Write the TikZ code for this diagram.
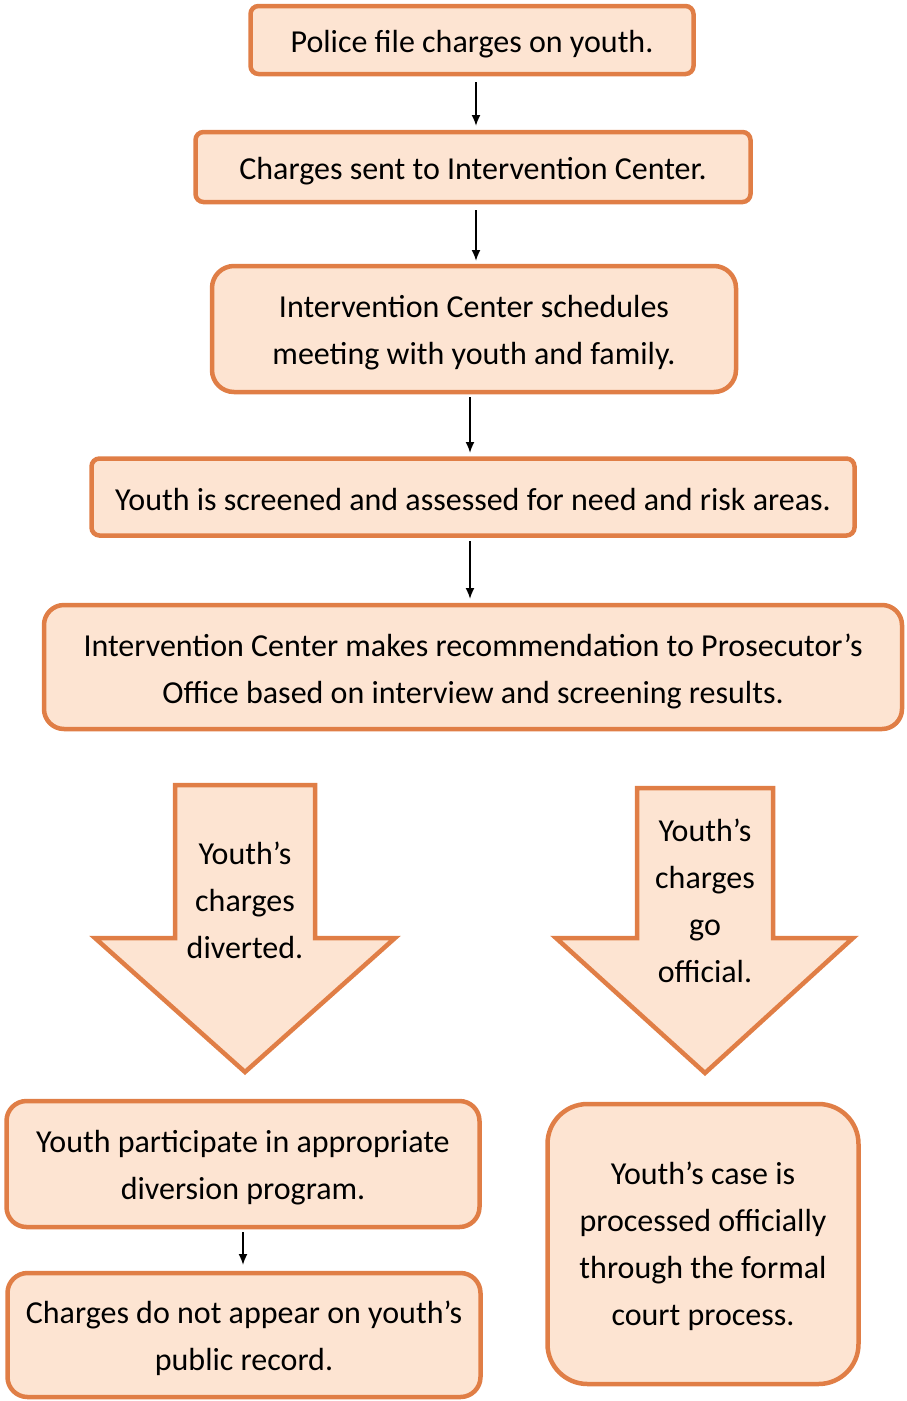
\documentclass[tikz,border=0pt]{standalone}
\usepackage{fontspec}
\setmainfont{Carlito}
\usetikzlibrary{arrows.meta}
\definecolor{edgeor}{RGB}{224,126,70}
\definecolor{fillor}{RGB}{253,228,210}
\begin{document}
\begin{tikzpicture}[x=1pt,y=-1pt,
  box/.style={draw=edgeor,fill=fillor,line width=4.5pt,rounded corners=#1,inner sep=0pt},
  box/.default=8pt,
  txt/.style={align=center,inner sep=0pt,font=\fontsize{32}{47}\selectfont},
  flow/.style={-{Latex[length=11pt,width=9pt]},line width=1.8pt,black},
  bigarrow/.style={draw=edgeor,fill=fillor,line width=4.5pt,line join=miter}]
\useasboundingbox (0,0) rectangle (906,1401);
% boxes
\node[box,minimum width=443pt,minimum height=68pt] (b1) at (472,40) {};
\node[txt] (t1) at ([yshift=-4pt]b1.center) {Police file charges on youth.};
\node[box,minimum width=555pt,minimum height=70pt] (b2) at (473,167) {};
\node[txt] (t2) at ([yshift=-4pt]b2.center) {Charges sent to Intervention Center.};
\node[box=22pt,minimum width=524pt,minimum height=126pt] (b3) at (474,329) {};
\node[txt] (t3) at ([yshift=-4pt]b3.center) {Intervention Center schedules\\meeting with youth and family.};
\node[box,minimum width=763pt,minimum height=77pt] (b4) at (473,497) {};
\node[txt] (t4) at ([yshift=-3pt]b4.center) {Youth is screened and assessed for need and risk areas.};
\node[box=20pt,minimum width=858pt,minimum height=124pt] (b5) at (473,667) {};
\node[txt] (t5) at ([yshift=-4pt]b5.center) {Intervention Center makes recommendation to Prosecutor’s\\Office based on interview and screening results.};
\node[box=20pt,minimum width=473pt,minimum height=126pt] (b6) at (243,1164) {};
\node[txt] (t6) at ([yshift=-4pt]b6.center) {Youth participate in appropriate\\diversion program.};
\node[box=20pt,minimum width=473pt,minimum height=124pt] (b7) at (244,1335) {};
\node[txt] (t7) at ([yshift=-3pt]b7.center) {Charges do not appear on youth’s\\public record.};
\node[box=40pt,minimum width=311pt,minimum height=280pt] (b8) at (703,1244) {};
\node[txt] (t8) at ([yshift=-2pt]b8.center) {Youth’s case is\\processed officially\\through the formal\\court process.};
% connectors
\coordinate (s1) at (476,82); \coordinate (e1) at (476,126);
\coordinate (s2) at (476,210); \coordinate (e2) at (476,261);
\coordinate (s3) at (470,397); \coordinate (e3) at (470,453);
\coordinate (s4) at (470,541); \coordinate (e4) at (470,599);
\coordinate (s6) at (243,1232); \coordinate (e6) at (243,1265);
\draw[flow] (s1) -- (e1);
\draw[flow] (s2) -- (e2);
\draw[flow] (s3) -- (e3);
\draw[flow] (s4) -- (e4);
\draw[flow] (s6) -- (e6);
% big arrows
\draw[bigarrow] (175,785) -- (315,785) -- (315,938) -- (395,938) -- (245,1072) -- (95,938) -- (175,938) -- cycle;
\node[txt] (a1) at (245,900) {Youth’s\\charges\\diverted.};
\draw[bigarrow] (637,788) -- (773,788) -- (773,938) -- (853,938) -- (705,1073) -- (556,938) -- (637,938) -- cycle;
\node[txt] (a2) at (705,901) {Youth’s\\charges\\go\\official.};
\end{tikzpicture}
\end{document}
